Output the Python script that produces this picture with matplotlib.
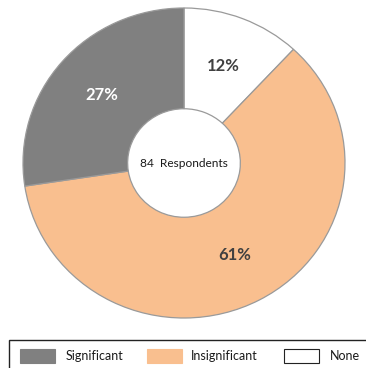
import matplotlib.pyplot as plt
from matplotlib.patches import Rectangle

categories = ["Significant", "Insignificant", "None"]
counts = [23, 51, 10]
colors = ["#808080", "#F9BF8F", "#FFFFFF"]
label_colors = ["white", "#404040", "#404040"]
center_text = "84  Respondents"

plt.rcParams["font.family"] = ["Lato", "DejaVu Sans"]

W, H = 366, 368
fig = plt.figure(figsize=(W / 100, H / 100), dpi=100)

# Donut axes (slightly wider than tall)
ax = fig.add_axes([23 / W, 50 / H, 322 / W, 310 / H])

# Draw clockwise from 12 o'clock: None, Insignificant, Significant
order = [2, 1, 0]
vals = [counts[i] for i in order]
cols = [colors[i] for i in order]
wedges, texts, autotexts = ax.pie(
    vals,
    colors=cols,
    startangle=90,
    counterclock=False,
    radius=1.0,
    autopct=lambda p: f"{p:.0f}%",
    pctdistance=0.67,
    wedgeprops=dict(width=0.65, edgecolor="#9a9a9a", linewidth=0.9),
    textprops=dict(fontsize=12, fontweight="bold"),
)
for t, i in zip(autotexts, order):
    t.set_color(label_colors[i])

ax.text(0, 0, center_text, ha="center", va="center", fontsize=8.6, color="#1a1a1a")
ax.set_aspect("auto")
ax.set_xlim(-1, 1)
ax.set_ylim(-1, 1)
ax.axis("off")

# Legend box along the bottom edge
fig.patches.append(Rectangle((9 / W, -0.05), 1.0, (368 - 340) / H + 0.05,
                             transform=fig.transFigure, facecolor="white",
                             edgecolor="#222222", linewidth=1.0))
patch_x = [20, 147, 284]
text_x = [66, 191, 330]
for i, name in enumerate(categories):
    ec = "#222222" if colors[i].upper() == "#FFFFFF" else colors[i]
    fig.patches.append(Rectangle((patch_x[i] / W, (368 - 363) / H), 35 / W, 14 / H,
                                 transform=fig.transFigure, facecolor=colors[i],
                                 edgecolor=ec, linewidth=0.8))
    fig.text(text_x[i] / W, (368 - 356) / H, name, ha="left", va="center",
             fontsize=9, color="#1a1a1a")

fig.savefig("out.png", dpi=100)
